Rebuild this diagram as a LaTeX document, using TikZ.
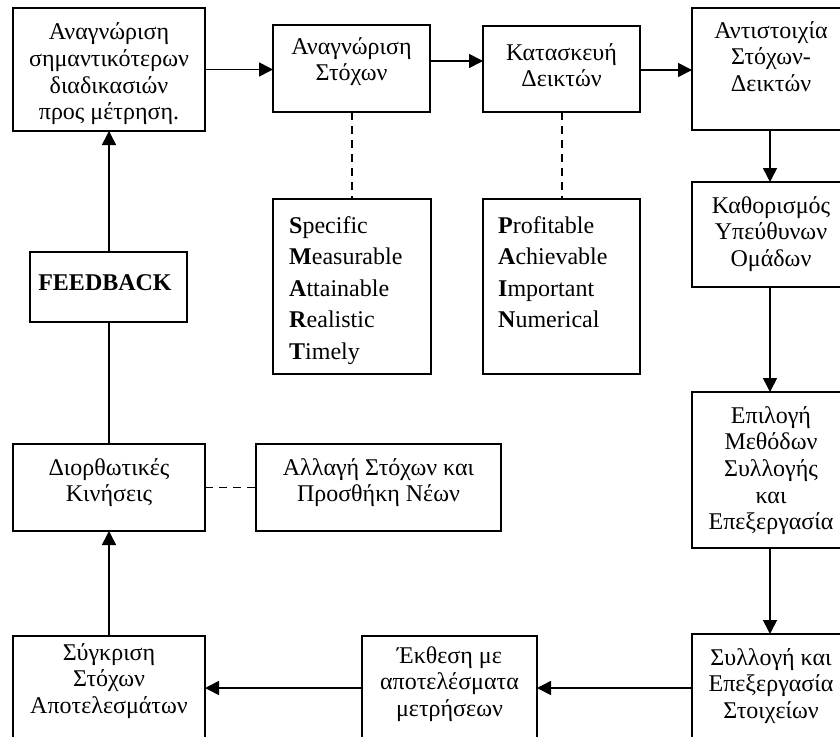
\documentclass[tikz,border=0pt]{standalone}
\usepackage{fontspec}
\setmainfont{Liberation Serif}
\usetikzlibrary{arrows.meta}

\tikzset{
  stage/.style={draw, line width=1.6pt, rectangle, inner sep=0pt, outer sep=0pt, anchor=north west},
  words/.style={align=center, inner sep=0pt, anchor=north, font=\fontsize{24}{26.7}\selectfont},
  acro/.style={align=left, inner sep=0pt, anchor=north west, font=\fontsize{24}{31.5}\selectfont},
  flow/.style={line width=1.6pt, -{Triangle[length=14pt,width=14pt]}},
  tie/.style={line width=1.6pt, dash pattern=on 8pt off 6pt},
}

\begin{document}
\begin{tikzpicture}[x=1pt,y=-1pt]
\path[use as bounding box, clip] (0,0) rectangle (840,736);

% boxes: (left, top), width, height
\node[stage, minimum width=192pt, minimum height=123pt] (b1) at (13,8) {};
\node[stage, minimum width=157pt, minimum height=87pt] (b2) at (273,25) {};
\node[stage, minimum width=157pt, minimum height=86pt] (b3) at (483,26) {};
\node[stage, minimum width=158pt, minimum height=122pt] (b4) at (692,8) {};
\node[stage, minimum width=158pt, minimum height=105pt] (b5) at (692,182) {};
\node[stage, minimum width=158pt, minimum height=156pt] (b6) at (692,392) {};
\node[stage, minimum width=158pt, minimum height=124pt] (b7) at (692,634) {};
\node[stage, minimum width=175pt, minimum height=124pt] (b8) at (362,636) {};
\node[stage, minimum width=192pt, minimum height=124pt] (b9) at (13,636) {};
\node[stage, minimum width=192pt, minimum height=87pt] (b10) at (13,444) {};
\node[stage, minimum width=245pt, minimum height=87pt] (b11) at (256,444) {};
\node[stage, minimum width=157pt, minimum height=70pt] (fb) at (30,252) {};
\node[stage, minimum width=158pt, minimum height=175pt] (smart) at (273,199) {};
\node[stage, minimum width=157pt, minimum height=175pt] (pain) at (483,199) {};

% box texts (north = first baseline - strut height)
\node[words] (t1) at (109,20.8) {\strut Αναγνώριση\\σημαντικότερων\\διαδικασιών\\προς μέτρηση.};
\node[words] (t2) at (351.5,35.3) {\strut Αναγνώριση\\Στόχων};
\node[words] (t3) at (561.5,41.3) {\strut Κατασκευή\\Δεικτών};
\node[words] (t4) at (771,19.3) {\strut Αντιστοιχία\\Στόχων-\\Δεικτών};
\node[words] (t5) at (771,194.3) {\strut Καθορισμός\\Υπεύθυνων\\Ομάδων};
\node[words] (t6) at (771,404.3) {\strut Επιλογή\\Μεθόδων\\Συλλογής\\και\\Επεξεργασία};
\node[words] (t7) at (771,646.3) {\strut Συλλογή και\\Επεξεργασία\\Στοιχείων};
\node[words] (t8) at (449.5,644.3) {\strut Έκθεση με\\αποτελέσματα\\μετρήσεων};
\node[words] (t9) at (109,641.3) {\strut Σύγκριση\\Στόχων\\Αποτελεσμάτων};
\node[words] (t10) at (109,456.3) {\strut Διορθωτικές\\Κινήσεις};
\node[words] (t11) at (378.5,456.3) {\strut Αλλαγή Στόχων και\\Προσθήκη Νέων};
\node[words, font=\fontsize{24}{26.7}\selectfont\bfseries] (tfb) at (105,271.3) {\strut FEEDBACK};
\node[acro] (tsmart) at (289,211) {\strut\textbf{S}pecific\\\textbf{M}easurable\\\textbf{A}ttainable\\\textbf{R}ealistic\\\textbf{T}imely};
\node[acro] (tpain) at (498,211) {\strut\textbf{P}rofitable\\\textbf{A}chievable\\\textbf{I}mportant\\\textbf{N}umerical};

% main flow
\draw[flow] (b1.east) -- (b1.east -| b2.west);
\draw[flow] (b2.east |- 0,61) -- (b3.west |- 0,61);
\draw[flow] (b3.east |- 0,70) -- (b4.west |- 0,70);
\draw[flow] (b4.south -| 770,0) -- (b5.north -| 770,0);
\draw[flow] (b5.south -| 770,0) -- (b6.north -| 770,0);
\draw[flow] (b6.south -| 770,0) -- (b7.north -| 770,0);
\draw[flow] (b7.west |- 0,688) -- (b8.east |- 0,688);
\draw[flow] (b8.west |- 0,688) -- (b9.east |- 0,688);
\draw[flow] (b9.north) -- (b10.south);
\draw[line width=1.6pt] (b10.north) -- (b10.north |- fb.south);
\draw[flow] (b1.south |- fb.north) -- (b1.south);

% dashed links
\draw[tie] (b2.south -| 352,0) -- (smart.north -| 352,0);
\draw[tie] (b3.south -| 562,0) -- (pain.north -| 562,0);
\draw[tie] (b10.east) -- (b11.west);
\end{tikzpicture}
\end{document}
